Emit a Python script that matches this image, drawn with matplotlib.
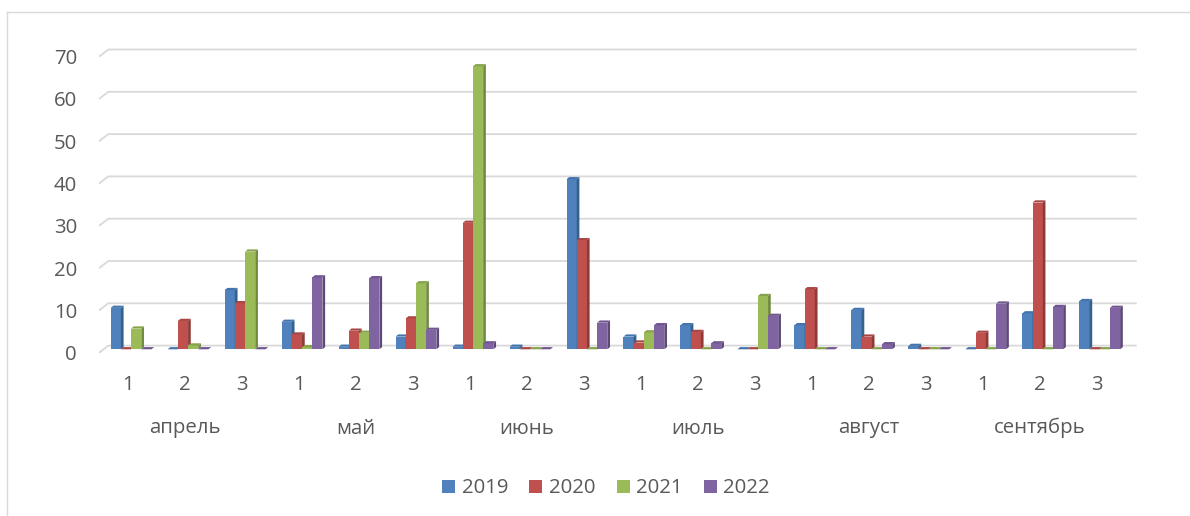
import matplotlib
matplotlib.use("Agg")
import matplotlib.pyplot as plt
from matplotlib.patches import Polygon, Rectangle
from matplotlib.lines import Line2D
import numpy as np

plt.rcParams['font.family'] = ['Open Sans', 'DejaVu Sans']

# ---- data -------------------------------------------------------------
months = ['апрель', 'май', 'июнь', 'июль', 'август', 'сентябрь']
decades = ['1', '2', '3']
years = ['2019', '2020', '2021', '2022']

v2019 = [9.8, 0, 14.0, 6.5, 0.6, 3.0, 0.6, 0.6, 40.2,
         3.0, 5.7, 0, 5.7, 9.3, 0.8, 0, 8.5, 11.4]
v2020 = [0, 6.7, 10.9, 3.5, 4.4, 7.3, 29.9, 0, 25.8,
         1.6, 4.1, 0, 14.2, 3.0, 0, 3.9, 34.7, 0]
v2021 = [4.9, 0.9, 23.1, 0.5, 3.9, 15.6, 66.9, 0, 0,
         4.0, 0, 12.6, 0, 0, 0, 0, 0, 0]
v2022 = [0, 0, 0, 17.0, 16.8, 4.6, 1.4, 0, 6.3,
         5.7, 1.4, 7.9, 0, 1.2, 0, 10.8, 10.0, 9.8]

y_ticks = [0, 10, 20, 30, 40, 50, 60, 70]

series = [v2019, v2020, v2021, v2022]
front_colors = ['#4F81BD', '#C0504D', '#9BBB59', '#8064A2']
side_colors = ['#36618F', '#8E3A38', '#718A3F', '#5D4878']
top_colors = ['#4474AD', '#A94542', '#86A34B', '#6F5690']
text_color = '#595959'
grid_color = '#D9D9D9'
FS = 14.7

# ---- figure & plot plane ------------------------------------------------
W, H = 1190, 516
fig = plt.figure(figsize=(W / 100, H / 100), dpi=100)
fig.patch.set_facecolor('white')

X0, X1 = 102.6, 1128.2    # bar plane, pixels
Y0, Y70 = 349.3, 53.2
ax = fig.add_axes([X0 / W, 1 - Y0 / H, (X1 - X0) / W, (Y0 - Y70) / H])
n = len(v2019)
ax.set_xlim(-0.5, n - 0.5)
ax.set_ylim(0, 70)
ax.axis('off')

PXX = (X1 - X0) / n
PXY = (Y0 - Y70) / 70


def dx(p):
    return p / PXX


def dy(p):
    return p / PXY


# back-wall gridlines with slanted left end
for v in y_ticks:
    ax.plot([-0.5 + dx(-3.6), -0.5 + dx(5.7), n - 0.5 + dx(8.5)],
            [v + dy(-3.5), v + dy(3.7), v + dy(3.7)],
            color=grid_color, lw=1.3, clip_on=False, zorder=1,
            solid_capstyle='butt', solid_joinstyle='miter')
    ax.text(-0.5 + dx(-25.6), v + dy(-10.8), str(v), ha='right',
            va='baseline', fontsize=FS, color=text_color, clip_on=False)

# 3D-style columns
bw = dx(10.2)
ddx, ddy = dx(2.7), dy(2.2)
x = np.arange(n)
for k, vals in enumerate(series):
    bars = ax.bar(x + (k - 2) * bw, vals, width=bw, align='edge',
                  color=front_colors[k], linewidth=0, label=years[k])
    for i, (rect, v) in enumerate(zip(bars, vals)):
        z = 2 + i * 4 + k
        rect.set_zorder(z)
        xl = rect.get_x()
        xr = xl + bw
        side = Polygon([(xr, 0), (xr + ddx, ddy), (xr + ddx, v + ddy), (xr, v)],
                       closed=True, facecolor=side_colors[k], edgecolor='none',
                       zorder=z, clip_on=False)
        top = Polygon([(xl, v), (xr, v), (xr + ddx, v + ddy), (xl + ddx, v + ddy)],
                      closed=True, facecolor=top_colors[k], edgecolor='none',
                      zorder=z, clip_on=False)
        ax.add_patch(side)
        ax.add_patch(top)
        rect.set_clip_on(False)

# category labels: decade numbers and month names
for i in range(n):
    ax.text(i + dx(-3), dy(Y0 - 390), decades[i % 3], ha='center',
            va='baseline', fontsize=FS, color=text_color, clip_on=False)
for m, name in enumerate(months):
    ax.text(3 * m + 1 + dx(-3), dy(Y0 - 433.5), name, ha='center',
            va='baseline', fontsize=FS, color=text_color, clip_on=False)

# legend along the bottom
leg_x = [442.3, 529.3, 616.5, 703.5]
for k, yr in enumerate(years):
    fig.add_artist(Rectangle((leg_x[k] / W, 1 - 492.7 / H), 13 / W, 13 / H,
                             transform=fig.transFigure,
                             facecolor=front_colors[k], edgecolor='none'))
    fig.text((leg_x[k] + 19.5) / W, 1 - 493 / H, yr, ha='left', va='baseline',
             fontsize=FS, color=text_color)

# chart area frame
fig.add_artist(Line2D([7.3 / W, 7.3 / W], [1 - 12.3 / H, 0],
                      transform=fig.transFigure, color=grid_color, lw=1.0))
fig.add_artist(Line2D([7.3 / W, 1], [1 - 12.3 / H, 1 - 12.3 / H],
                      transform=fig.transFigure, color=grid_color, lw=1.0))

fig.savefig('out.png', dpi=100, facecolor='white')
